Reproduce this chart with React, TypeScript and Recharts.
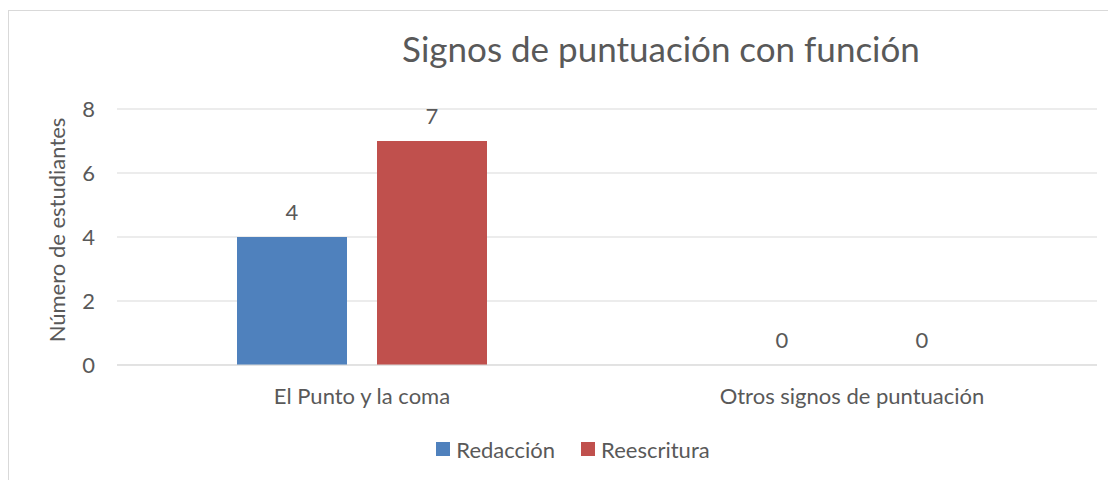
import React from 'react';
import { BarChart, Bar, XAxis, YAxis, CartesianGrid, Legend } from 'recharts';

const categories = ['El Punto y la coma', 'Otros signos de puntuación'];
const redaccion = [4, 0];
const reescritura = [7, 0];
const yTicks = [0, 2, 4, 6, 8];

const data = categories.map((name, i) => ({
  name,
  Redacción: redaccion[i],
  Reescritura: reescritura[i],
}));

const FONT = 'Lato, "Open Sans", sans-serif';
const TEXT = '#595959';

const renderLegend = (props: any) => {
  const { payload } = props;
  return (
    <div style={{ display: 'flex', justifyContent: 'center', height: 24, alignItems: 'center', fontFamily: FONT, fontSize: 22, color: TEXT }}>
      {payload.map((entry: any, i: number) => (
        <div key={entry.value} style={{ display: 'flex', alignItems: 'center', marginLeft: i ? 26 : 0 }}>
          <div style={{ width: 14, height: 14, background: entry.color, marginRight: 6 }} />
          {entry.value}
        </div>
      ))}
    </div>
  );
};

// value label above each bar, also for zero-height bars
const valueLabel = (props: any) => {
  const { x, y, width, value } = props;
  return (
    <text x={x + width / 2} y={y - 17} textAnchor="middle" fill={TEXT} fontSize={22} fontFamily={FONT}>
      {value}
    </text>
  );
};

export default function App() {
  return (
    <div style={{ position: 'relative', width: 1100, height: 475, marginTop: 2, border: '1px solid #d9d9d9', background: '#fff' }}>
      <div style={{ position: 'absolute', left: 652, top: 16, transform: 'translateX(-50%)', whiteSpace: 'nowrap', fontFamily: FONT, fontSize: 35, color: TEXT }}>
        Signos de puntuación con función
      </div>
      <BarChart width={1100} height={470} data={data} margin={{ top: 98, right: 12, bottom: 20, left: 40 }} barSize={110} barGap={30}>
        <CartesianGrid vertical={false} stroke="#d9d9d9" />
        <XAxis
          dataKey="name"
          height={72}
          axisLine={{ stroke: '#d9d9d9' }}
          tickLine={false}
          tickSize={0}
          tickMargin={23}
          tick={{ fill: TEXT, fontSize: 22, fontFamily: FONT }}
        />
        <YAxis
          width={68}
          domain={[0, 8]}
          ticks={yTicks}
          axisLine={false}
          tickLine={false}
          tickSize={0}
          tickMargin={22}
          tick={{ fill: TEXT, fontSize: 22, fontFamily: FONT }}
          label={{ value: 'Número de estudiantes', angle: -90, position: 'insideLeft', offset: 8, dy: -7, style: { fill: TEXT, fontSize: 22, fontFamily: FONT, textAnchor: 'middle' } }}
        />
        <Legend verticalAlign="bottom" content={renderLegend} />
        <Bar dataKey="Redacción" fill="#4F81BD" minPointSize={0.01} isAnimationActive={false} label={valueLabel} />
        <Bar dataKey="Reescritura" fill="#C0504D" minPointSize={0.01} isAnimationActive={false} label={valueLabel} />
      </BarChart>
    </div>
  );
}
